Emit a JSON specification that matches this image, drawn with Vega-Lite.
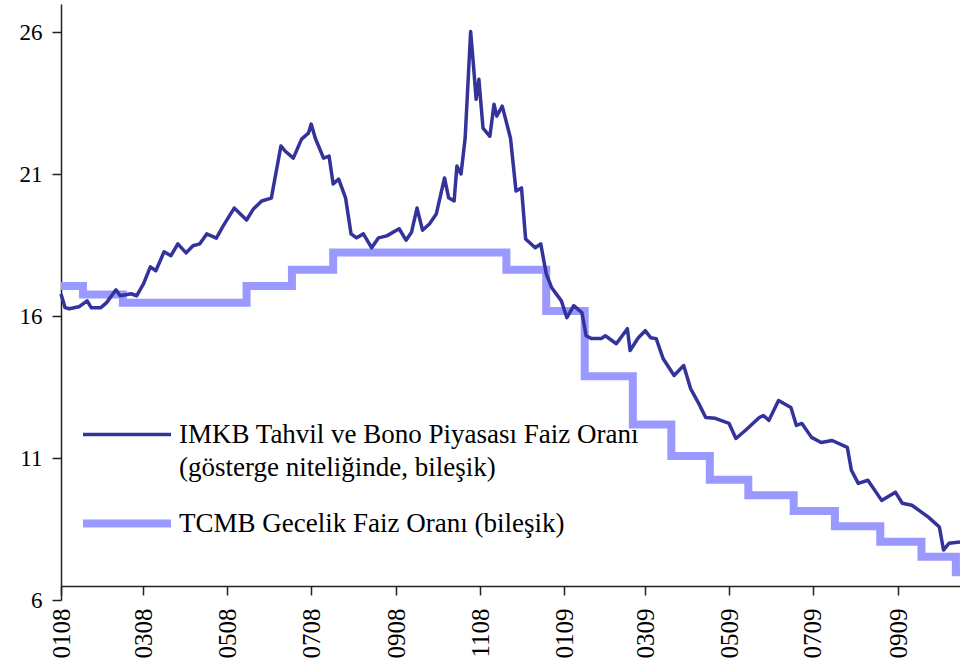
{
  "$schema": "https://vega.github.io/schema/vega-lite/v6.json",
  "width": 899,
  "height": 596,
  "autosize": {"type": "none"},
  "padding": {"left": 61, "top": 4, "right": 0, "bottom": 68},
  "background": "white",
  "config": {
    "view": {"stroke": null},
    "font": "Liberation Serif",
    "style": {"guide-label": {"lineHeight": 33}}
  },
  "datasets": {
    "imkb": [
      {"date": "2008-01-01", "value": 16.78, "series": "IMKB"},
      {"date": "2008-01-04", "value": 16.30, "series": "IMKB"},
      {"date": "2008-01-07", "value": 16.26, "series": "IMKB"},
      {"date": "2008-01-14", "value": 16.33, "series": "IMKB"},
      {"date": "2008-01-20", "value": 16.54, "series": "IMKB"},
      {"date": "2008-01-23", "value": 16.30, "series": "IMKB"},
      {"date": "2008-01-30", "value": 16.30, "series": "IMKB"},
      {"date": "2008-02-03", "value": 16.47, "series": "IMKB"},
      {"date": "2008-02-10", "value": 16.93, "series": "IMKB"},
      {"date": "2008-02-13", "value": 16.72, "series": "IMKB"},
      {"date": "2008-02-21", "value": 16.79, "series": "IMKB"},
      {"date": "2008-02-25", "value": 16.72, "series": "IMKB"},
      {"date": "2008-03-01", "value": 17.14, "series": "IMKB"},
      {"date": "2008-03-06", "value": 17.74, "series": "IMKB"},
      {"date": "2008-03-10", "value": 17.60, "series": "IMKB"},
      {"date": "2008-03-16", "value": 18.27, "series": "IMKB"},
      {"date": "2008-03-21", "value": 18.13, "series": "IMKB"},
      {"date": "2008-03-26", "value": 18.55, "series": "IMKB"},
      {"date": "2008-04-01", "value": 18.23, "series": "IMKB"},
      {"date": "2008-04-06", "value": 18.48, "series": "IMKB"},
      {"date": "2008-04-11", "value": 18.55, "series": "IMKB"},
      {"date": "2008-04-16", "value": 18.90, "series": "IMKB"},
      {"date": "2008-04-23", "value": 18.75, "series": "IMKB"},
      {"date": "2008-04-28", "value": 19.18, "series": "IMKB"},
      {"date": "2008-05-06", "value": 19.81, "series": "IMKB"},
      {"date": "2008-05-15", "value": 19.39, "series": "IMKB"},
      {"date": "2008-05-20", "value": 19.78, "series": "IMKB"},
      {"date": "2008-05-26", "value": 20.06, "series": "IMKB"},
      {"date": "2008-06-02", "value": 20.16, "series": "IMKB"},
      {"date": "2008-06-09", "value": 22.00, "series": "IMKB"},
      {"date": "2008-06-12", "value": 21.82, "series": "IMKB"},
      {"date": "2008-06-18", "value": 21.57, "series": "IMKB"},
      {"date": "2008-06-24", "value": 22.24, "series": "IMKB"},
      {"date": "2008-06-29", "value": 22.45, "series": "IMKB"},
      {"date": "2008-07-01", "value": 22.77, "series": "IMKB"},
      {"date": "2008-07-04", "value": 22.27, "series": "IMKB"},
      {"date": "2008-07-10", "value": 21.57, "series": "IMKB"},
      {"date": "2008-07-14", "value": 21.64, "series": "IMKB"},
      {"date": "2008-07-17", "value": 20.66, "series": "IMKB"},
      {"date": "2008-07-21", "value": 20.83, "series": "IMKB"},
      {"date": "2008-07-26", "value": 20.17, "series": "IMKB"},
      {"date": "2008-07-30", "value": 18.90, "series": "IMKB"},
      {"date": "2008-08-03", "value": 18.76, "series": "IMKB"},
      {"date": "2008-08-08", "value": 18.90, "series": "IMKB"},
      {"date": "2008-08-14", "value": 18.41, "series": "IMKB"},
      {"date": "2008-08-19", "value": 18.76, "series": "IMKB"},
      {"date": "2008-08-25", "value": 18.83, "series": "IMKB"},
      {"date": "2008-09-03", "value": 19.08, "series": "IMKB"},
      {"date": "2008-09-08", "value": 18.68, "series": "IMKB"},
      {"date": "2008-09-12", "value": 18.96, "series": "IMKB"},
      {"date": "2008-09-16", "value": 19.81, "series": "IMKB"},
      {"date": "2008-09-20", "value": 19.03, "series": "IMKB"},
      {"date": "2008-09-25", "value": 19.25, "series": "IMKB"},
      {"date": "2008-09-30", "value": 19.60, "series": "IMKB"},
      {"date": "2008-10-06", "value": 20.87, "series": "IMKB"},
      {"date": "2008-10-09", "value": 20.17, "series": "IMKB"},
      {"date": "2008-10-13", "value": 20.06, "series": "IMKB"},
      {"date": "2008-10-15", "value": 21.29, "series": "IMKB"},
      {"date": "2008-10-18", "value": 21.01, "series": "IMKB"},
      {"date": "2008-10-21", "value": 22.27, "series": "IMKB"},
      {"date": "2008-10-25", "value": 26.03, "series": "IMKB"},
      {"date": "2008-10-27", "value": 24.87, "series": "IMKB"},
      {"date": "2008-10-29", "value": 23.64, "series": "IMKB"},
      {"date": "2008-10-31", "value": 24.35, "series": "IMKB"},
      {"date": "2008-11-03", "value": 22.63, "series": "IMKB"},
      {"date": "2008-11-08", "value": 22.34, "series": "IMKB"},
      {"date": "2008-11-11", "value": 23.47, "series": "IMKB"},
      {"date": "2008-11-13", "value": 23.05, "series": "IMKB"},
      {"date": "2008-11-17", "value": 23.40, "series": "IMKB"},
      {"date": "2008-11-23", "value": 22.27, "series": "IMKB"},
      {"date": "2008-11-27", "value": 20.41, "series": "IMKB"},
      {"date": "2008-12-01", "value": 20.52, "series": "IMKB"},
      {"date": "2008-12-04", "value": 18.72, "series": "IMKB"},
      {"date": "2008-12-11", "value": 18.41, "series": "IMKB"},
      {"date": "2008-12-15", "value": 18.55, "series": "IMKB"},
      {"date": "2008-12-19", "value": 17.49, "series": "IMKB"},
      {"date": "2008-12-23", "value": 17.00, "series": "IMKB"},
      {"date": "2008-12-30", "value": 16.54, "series": "IMKB"},
      {"date": "2009-01-03", "value": 15.95, "series": "IMKB"},
      {"date": "2009-01-08", "value": 16.37, "series": "IMKB"},
      {"date": "2009-01-14", "value": 16.12, "series": "IMKB"},
      {"date": "2009-01-17", "value": 15.31, "series": "IMKB"},
      {"date": "2009-01-21", "value": 15.21, "series": "IMKB"},
      {"date": "2009-01-28", "value": 15.21, "series": "IMKB"},
      {"date": "2009-01-31", "value": 15.31, "series": "IMKB"},
      {"date": "2009-02-08", "value": 15.03, "series": "IMKB"},
      {"date": "2009-02-16", "value": 15.56, "series": "IMKB"},
      {"date": "2009-02-18", "value": 14.79, "series": "IMKB"},
      {"date": "2009-02-24", "value": 15.24, "series": "IMKB"},
      {"date": "2009-03-01", "value": 15.49, "series": "IMKB"},
      {"date": "2009-03-05", "value": 15.24, "series": "IMKB"},
      {"date": "2009-03-09", "value": 15.21, "series": "IMKB"},
      {"date": "2009-03-14", "value": 14.51, "series": "IMKB"},
      {"date": "2009-03-22", "value": 13.91, "series": "IMKB"},
      {"date": "2009-03-29", "value": 14.26, "series": "IMKB"},
      {"date": "2009-04-03", "value": 13.45, "series": "IMKB"},
      {"date": "2009-04-09", "value": 12.92, "series": "IMKB"},
      {"date": "2009-04-14", "value": 12.43, "series": "IMKB"},
      {"date": "2009-04-21", "value": 12.40, "series": "IMKB"},
      {"date": "2009-05-01", "value": 12.22, "series": "IMKB"},
      {"date": "2009-05-06", "value": 11.69, "series": "IMKB"},
      {"date": "2009-05-13", "value": 11.98, "series": "IMKB"},
      {"date": "2009-05-23", "value": 12.43, "series": "IMKB"},
      {"date": "2009-05-26", "value": 12.50, "series": "IMKB"},
      {"date": "2009-05-30", "value": 12.33, "series": "IMKB"},
      {"date": "2009-06-06", "value": 13.03, "series": "IMKB"},
      {"date": "2009-06-15", "value": 12.78, "series": "IMKB"},
      {"date": "2009-06-19", "value": 12.15, "series": "IMKB"},
      {"date": "2009-06-23", "value": 12.22, "series": "IMKB"},
      {"date": "2009-06-30", "value": 11.73, "series": "IMKB"},
      {"date": "2009-07-07", "value": 11.55, "series": "IMKB"},
      {"date": "2009-07-15", "value": 11.62, "series": "IMKB"},
      {"date": "2009-07-26", "value": 11.38, "series": "IMKB"},
      {"date": "2009-07-29", "value": 10.57, "series": "IMKB"},
      {"date": "2009-08-03", "value": 10.11, "series": "IMKB"},
      {"date": "2009-08-10", "value": 10.22, "series": "IMKB"},
      {"date": "2009-08-20", "value": 9.51, "series": "IMKB"},
      {"date": "2009-08-30", "value": 9.80, "series": "IMKB"},
      {"date": "2009-09-04", "value": 9.41, "series": "IMKB"},
      {"date": "2009-09-11", "value": 9.34, "series": "IMKB"},
      {"date": "2009-09-23", "value": 8.92, "series": "IMKB"},
      {"date": "2009-10-01", "value": 8.57, "series": "IMKB"},
      {"date": "2009-10-04", "value": 7.76, "series": "IMKB"},
      {"date": "2009-10-08", "value": 8.00, "series": "IMKB"},
      {"date": "2009-10-16", "value": 8.04, "series": "IMKB"}
    ],
    "tcmb": [
      {"date": "2008-01-01", "value": 17.06, "series": "TCMB"},
      {"date": "2008-01-17", "value": 16.76, "series": "TCMB"},
      {"date": "2008-02-15", "value": 16.47, "series": "TCMB"},
      {"date": "2008-05-15", "value": 17.06, "series": "TCMB"},
      {"date": "2008-06-17", "value": 17.64, "series": "TCMB"},
      {"date": "2008-07-17", "value": 18.24, "series": "TCMB"},
      {"date": "2008-11-20", "value": 17.64, "series": "TCMB"},
      {"date": "2008-12-19", "value": 16.18, "series": "TCMB"},
      {"date": "2009-01-16", "value": 13.88, "series": "TCMB"},
      {"date": "2009-02-20", "value": 12.18, "series": "TCMB"},
      {"date": "2009-03-20", "value": 11.07, "series": "TCMB"},
      {"date": "2009-04-17", "value": 10.24, "series": "TCMB"},
      {"date": "2009-05-15", "value": 9.69, "series": "TCMB"},
      {"date": "2009-06-17", "value": 9.14, "series": "TCMB"},
      {"date": "2009-07-17", "value": 8.60, "series": "TCMB"},
      {"date": "2009-08-19", "value": 8.05, "series": "TCMB"},
      {"date": "2009-09-18", "value": 7.52, "series": "TCMB"},
      {"date": "2009-10-13", "value": 6.98, "series": "TCMB"},
      {"date": "2009-10-16", "value": 6.98, "series": "TCMB"}
    ]
  },
  "encoding": {
    "x": {
      "field": "date",
      "type": "temporal",
      "scale": {
        "type": "utc",
        "domain": [
          {"year": 2008, "month": 1, "date": 1, "utc": true},
          {"year": 2009, "month": 10, "date": 16, "utc": true}
        ]
      },
      "axis": {
        "title": null,
        "grid": false,
        "values": [
          {"year": 2008, "month": 1, "date": 1, "utc": true},
          {"year": 2008, "month": 3, "date": 1, "utc": true},
          {"year": 2008, "month": 5, "date": 1, "utc": true},
          {"year": 2008, "month": 7, "date": 1, "utc": true},
          {"year": 2008, "month": 9, "date": 1, "utc": true},
          {"year": 2008, "month": 11, "date": 1, "utc": true},
          {"year": 2009, "month": 1, "date": 1, "utc": true},
          {"year": 2009, "month": 3, "date": 1, "utc": true},
          {"year": 2009, "month": 5, "date": 1, "utc": true},
          {"year": 2009, "month": 7, "date": 1, "utc": true},
          {"year": 2009, "month": 9, "date": 1, "utc": true}
        ],
        "labelExpr": "utcFormat(datum.value, '%m%y')",
        "labelAngle": -90,
        "labelAlign": "right",
        "labelBaseline": "middle",
        "labelOverlap": false,
        "labelFlush": false,
        "labelBound": false,
        "labelFont": "Liberation Serif",
        "labelFontSize": 25,
        "labelColor": "#000000",
        "labelPadding": 13,
        "tickSize": 9,
        "tickColor": "#222222",
        "tickWidth": 1.5,
        "domainColor": "#222222",
        "domainWidth": 1.5,
        "offset": -14
      }
    },
    "y": {
      "field": "value",
      "type": "quantitative",
      "scale": {"domain": [6, 27], "nice": false, "zero": false},
      "axis": {
        "title": null,
        "grid": false,
        "values": [6, 11, 16, 21, 26],
        "labelFont": "Liberation Serif",
        "labelFontSize": 23,
        "labelColor": "#000000",
        "labelPadding": 10,
        "tickSize": 9,
        "tickColor": "#222222",
        "tickWidth": 1.5,
        "domainColor": "#222222",
        "domainWidth": 1.5
      }
    },
    "color": {
      "field": "series",
      "type": "nominal",
      "scale": {"domain": ["IMKB", "TCMB"], "range": ["#333399", "#9999FF"]},
      "legend": {
        "title": null,
        "orient": "none",
        "legendX": 18,
        "legendY": 388,
        "symbolType": "stroke",
        "symbolSize": 7744,
        "clipHeight": 85,
        "rowPadding": 0,
        "labelOffset": 4,
        "labelFont": "Liberation Serif",
        "labelFontSize": 27,
        "labelColor": "#000000",
        "labelLimit": 800,
        "labelExpr": "datum.label == 'IMKB' ? ['IMKB Tahvil ve Bono Piyasası Faiz Oranı', '(gösterge niteliğinde, bileşik)'] : 'TCMB Gecelik Faiz Oranı (bileşik)'"
      }
    },
    "strokeWidth": {
      "field": "series",
      "type": "nominal",
      "scale": {"domain": ["IMKB", "TCMB"], "range": [3.5, 8]}
    }
  },
  "layer": [
    {
      "data": {"name": "tcmb"},
      "mark": {"type": "line", "interpolate": "step-after", "strokeCap": "butt", "strokeJoin": "miter"}
    },
    {
      "data": {"name": "imkb"},
      "mark": {"type": "line", "strokeJoin": "round"}
    }
  ]
}
